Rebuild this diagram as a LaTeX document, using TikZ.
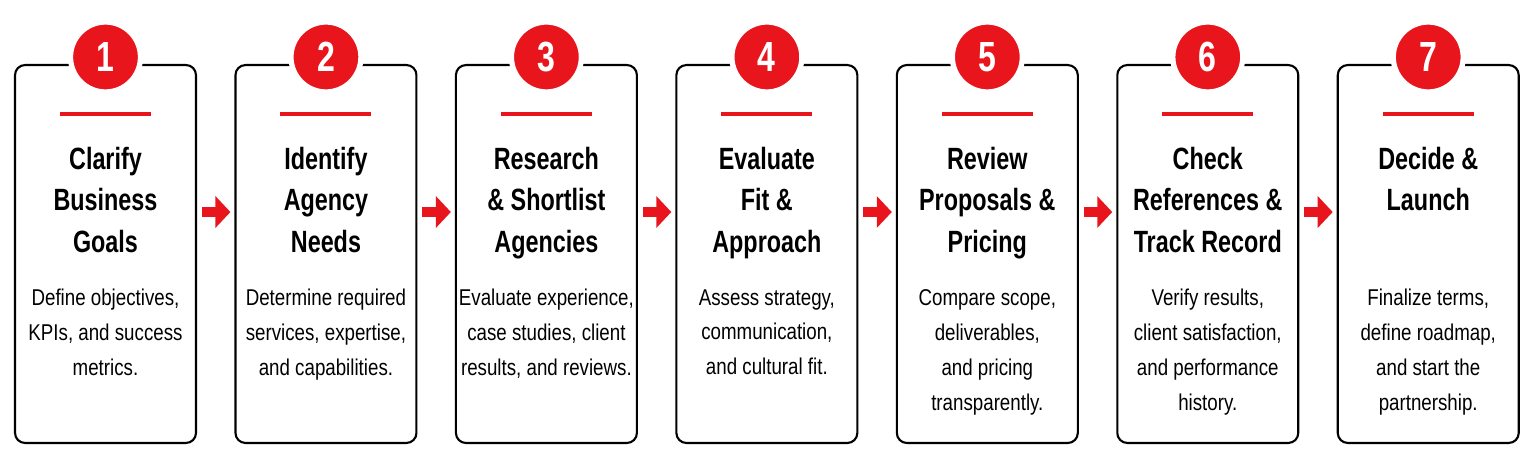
\documentclass[tikz,border=0pt]{standalone}
\usepackage{fontspec}
\setmainfont{Liberation Sans}
\newfontfamily\titlefont{Liberation Sans}[FakeStretch=0.76]
\newfontfamily\bodyfont{Liberation Sans}[FakeStretch=0.82]
\usepackage{tikz}
\usetikzlibrary{arrows.meta, positioning}
\definecolor{stepred}{RGB}{232,22,28}
\tikzstyle{stepcard} = [rectangle, rounded corners=0.2cm, minimum width=3.62cm, minimum height=7.56cm, inner sep=0pt, draw=black, line width=1.2pt, fill=white]
\tikzstyle{badge} = [circle, minimum size=1.4cm, inner sep=0pt, fill=stepred, draw=white, line width=3pt, text=white, font=\titlefont\fontsize{24}{28}\selectfont\bfseries]
\tikzstyle{redbar} = [rectangle, minimum width=1.82cm, minimum height=0.08cm, inner sep=0pt, fill=stepred]
\tikzstyle{steptitle} = [align=center, inner sep=0pt, font=\titlefont\fontsize{17.5}{23.8}\selectfont\bfseries]
\tikzstyle{steptext} = [align=center, inner sep=0pt, font=\bodyfont\fontsize{13}{19.9}\selectfont]
\tikzstyle{flowarrow} = [stepred, line width=0.2cm, -{Triangle[length=0.3cm, width=0.62cm]}, shorten <=0.1cm, shorten >=0.08cm]

\begin{document}
\begin{tikzpicture}[x=0.02cm, y=-0.02cm]
		\useasboundingbox (0,0) rectangle (1536,468);
		% cards
		\node (card1) [stepcard] at (105.5,254) {};
		\node (card2) [stepcard, right of = card1, xshift = 3.41cm] {};
		\node (card3) [stepcard, right of = card2, xshift = 3.41cm] {};
		\node (card4) [stepcard, right of = card3, xshift = 3.41cm] {};
		\node (card5) [stepcard, right of = card4, xshift = 3.41cm] {};
		\node (card6) [stepcard, right of = card5, xshift = 3.41cm] {};
		\node (card7) [stepcard, right of = card6, xshift = 3.41cm] {};
		% step 1
		\node (badge1) [badge, at = (card1.north), yshift = 0.14cm] {1};
		\node (bar1) [redbar, below = 0.96cm of card1.north] {};
		\node (title1) [steptitle, below = 1.65cm of card1.north] {Clarify\\Business\\Goals};
		\node (text1) [steptext, below = 4.5cm of card1.north] {Define objectives,\\KPIs, and success\\metrics.};
		% step 2
		\node (badge2) [badge, at = (card2.north), yshift = 0.14cm] {2};
		\node (bar2) [redbar, below = 0.96cm of card2.north] {};
		\node (title2) [steptitle, below = 1.65cm of card2.north] {Identify\\Agency\\Needs};
		\node (text2) [steptext, below = 4.5cm of card2.north] {Determine required\\services, expertise,\\and capabilities.};
		% step 3
		\node (badge3) [badge, at = (card3.north), yshift = 0.14cm] {3};
		\node (bar3) [redbar, below = 0.96cm of card3.north] {};
		\node (title3) [steptitle, below = 1.65cm of card3.north] {Research\\\& Shortlist\\Agencies};
		\node (text3) [steptext, below = 4.5cm of card3.north] {Evaluate experience,\\case studies, client\\results, and reviews.};
		% step 4
		\node (badge4) [badge, at = (card4.north), yshift = 0.14cm] {4};
		\node (bar4) [redbar, below = 0.96cm of card4.north] {};
		\node (title4) [steptitle, below = 1.65cm of card4.north] {Evaluate\\Fit \&\\Approach};
		\node (text4) [steptext, below = 4.5cm of card4.north] {Assess strategy,\\communication,\\and cultural fit.};
		% step 5
		\node (badge5) [badge, at = (card5.north), yshift = 0.14cm] {5};
		\node (bar5) [redbar, below = 0.96cm of card5.north] {};
		\node (title5) [steptitle, below = 1.65cm of card5.north] {Review\\Proposals \&\\Pricing};
		\node (text5) [steptext, below = 4.5cm of card5.north] {Compare scope,\\deliverables,\\and pricing\\transparently.};
		% step 6
		\node (badge6) [badge, at = (card6.north), yshift = 0.14cm] {6};
		\node (bar6) [redbar, below = 0.96cm of card6.north] {};
		\node (title6) [steptitle, below = 1.65cm of card6.north] {Check\\References \&\\Track Record};
		\node (text6) [steptext, below = 4.5cm of card6.north] {Verify results,\\client satisfaction,\\and performance\\history.};
		% step 7
		\node (badge7) [badge, at = (card7.north), yshift = 0.14cm] {7};
		\node (bar7) [redbar, below = 0.96cm of card7.north] {};
		\node (title7) [steptitle, below = 1.65cm of card7.north] {Decide \&\\Launch};
		\node (text7) [steptext, below = 4.5cm of card7.north] {Finalize terms,\\define roadmap,\\and start the\\partnership.};
		% arrows
		\draw [flowarrow] ([yshift = 0.84cm]card1.east) -- ([yshift = 0.84cm]card2.west);
		\draw [flowarrow] ([yshift = 0.84cm]card2.east) -- ([yshift = 0.84cm]card3.west);
		\draw [flowarrow] ([yshift = 0.84cm]card3.east) -- ([yshift = 0.84cm]card4.west);
		\draw [flowarrow] ([yshift = 0.84cm]card4.east) -- ([yshift = 0.84cm]card5.west);
		\draw [flowarrow] ([yshift = 0.84cm]card5.east) -- ([yshift = 0.84cm]card6.west);
		\draw [flowarrow] ([yshift = 0.84cm]card6.east) -- ([yshift = 0.84cm]card7.west);
	\end{tikzpicture}
\end{document}
